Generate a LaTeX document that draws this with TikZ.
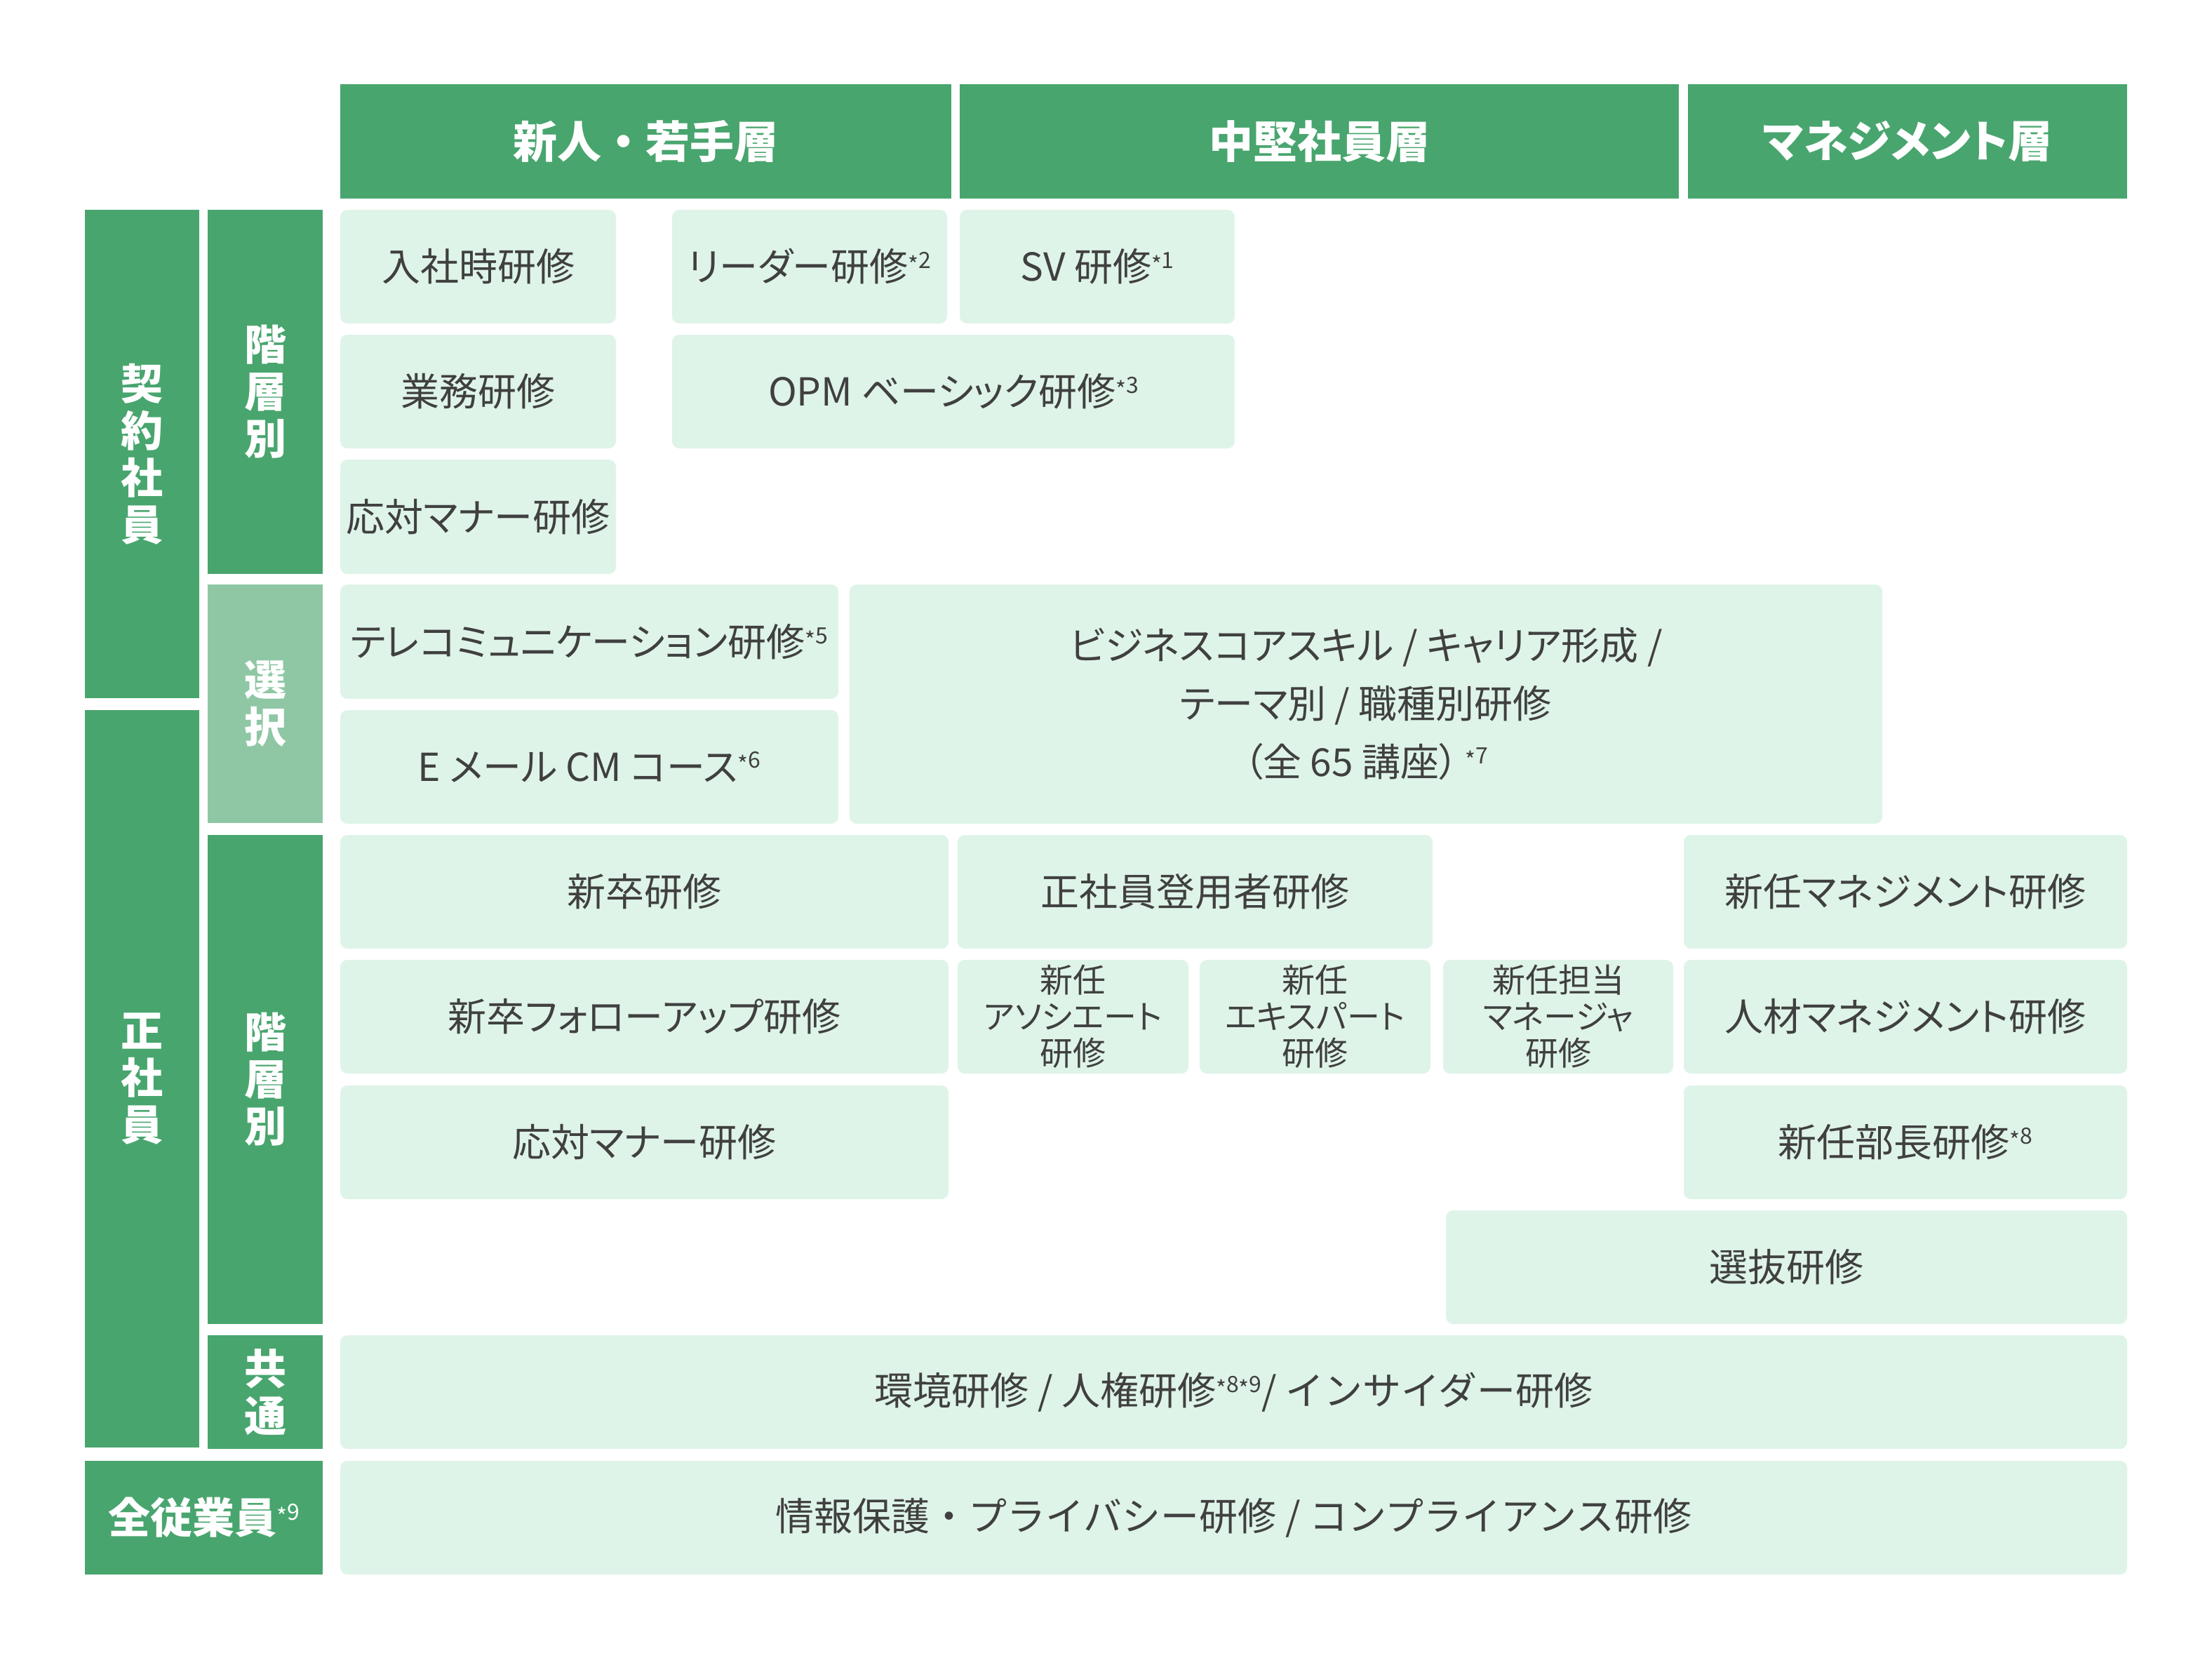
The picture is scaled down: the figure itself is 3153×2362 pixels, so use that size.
\documentclass[tikz,border=0pt]{standalone}
\usepackage{fontspec}
\setmainfont{Noto Sans CJK JP}
\newfontfamily\palt[RawFeature=+palt]{Noto Sans CJK JP}
\definecolor{hdr}{RGB}{72,165,110}
\definecolor{sel}{RGB}{143,199,165}
\definecolor{cellc}{RGB}{223,244,232}
\definecolor{txt}{RGB}{64,64,64}
\newcommand\nt[1]{\raisebox{0.33em}{\fontsize{32}{32}\selectfont\raisebox{-0.22em}{*}#1}}
\newcommand\ntw[1]{\raisebox{0.33em}{\mdseries\fontsize{32}{32}\selectfont\raisebox{-0.22em}{*}#1}}
\tikzset{
  cell/.style={fill=cellc, rounded corners=10pt, inner sep=0pt, outer sep=0pt, align=center, text=txt, font=\palt\fontsize{55}{83}\selectfont},
  plain/.style={font=\normalfont\fontsize{55}{83}\selectfont},
  small/.style={font=\palt\fontsize{47}{52}\selectfont},
  hd/.style={fill=hdr, inner sep=0pt, outer sep=0pt, text=white, align=center, font=\bfseries\fontsize{63}{70}\selectfont},
  side/.style={fill=hdr, inner sep=0pt, outer sep=0pt, text=white, align=center, font=\bfseries\fontsize{60}{67}\selectfont},
  selside/.style={side, fill=sel}
}
% \bx{style}{name}{x1}{y1}{x2}{y2}{text}
\newcommand\bx[7]{%
  \pgfmathsetmacro\bw{#5-#3}\pgfmathsetmacro\bh{#6-#4}%
  \pgfmathsetmacro\bcx{(#3+#5)/2}\pgfmathsetmacro\bcy{-(#4+#6)/2}%
  \node[#1, minimum width=\bw pt, minimum height=\bh pt] (#2) at (\bcx pt,\bcy pt) {#7};}
\begin{document}
\begin{tikzpicture}[x=1pt,y=1pt]
\useasboundingbox (0,0) rectangle (3153,-2362);
% headers
\bx{hd}{h1}{485}{120}{1356}{283}{新人・若手層}
\bx{hd}{h2}{1368}{120}{2393}{283}{中堅社員層}
\bx{hd}{h3}{2406}{120}{3032}{283}{\palt マネジメント層}
% side labels
\bx{side}{keiyaku}{121}{299}{284}{995}{契\\約\\社\\員}
\bx{side}{seisha}{121}{1012}{284}{2063}{正\\社\\員}
\bx{side}{kaisou1}{296}{299}{460}{818}{階\\層\\別}
\bx{selside}{sentaku}{296}{833}{460}{1173}{選\\択}
\bx{side}{kaisou2}{296}{1190}{460}{1887}{階\\層\\別}
\bx{side}{kyoutsu}{296}{1903}{460}{2065}{共\\通}
\bx{side}{zenin}{121}{2082}{460}{2244}{全従業員\ntw{9}}
% contract
\bx{cell}{c1}{485}{299}{878}{461}{入社時研修}
\bx{cell}{c2}{958}{299}{1350}{461}{リーダー研修\nt{2}}
\bx{cell}{c3}{1368}{299}{1760}{461}{SV 研修\nt{1}}
\bx{cell}{c4}{485}{477}{878}{639}{業務研修}
\bx{cell}{c5}{958}{477}{1760}{639}{OPM ベーシック研修\nt{3}}
\bx{cell}{c6}{485}{655}{878}{818}{応対マナー研修}
% selection
\bx{cell}{s1}{485}{833}{1195}{996}{テレコミュニケーション研修\nt{5}}
\bx{cell}{s2}{485}{1012}{1195}{1174}{E メール CM コース\nt{6}}
\bx{cell}{s3}{1211}{833}{2683}{1174}{ビジネスコアスキル / キャリア形成 /\\テーマ別 / 職種別研修\\（全 65 講座）\hspace{10pt}\nt{7}}
% regular
\bx{cell}{r1}{485}{1190}{1352}{1352}{新卒研修}
\bx{cell}{r2}{1365}{1190}{2042}{1352}{正社員登用者研修}
\bx{cell}{r3}{2400}{1190}{3032}{1352}{新任マネジメント研修}
\bx{cell}{r4}{485}{1368}{1352}{1530}{新卒フォローアップ研修}
\bx{cell,small}{r5}{1365}{1368}{1694}{1530}{新任\\アソシエート\\研修}
\bx{cell,small}{r6}{1710}{1368}{2039}{1530}{新任\\エキスパート\\研修}
\bx{cell,small}{r7}{2057}{1368}{2385}{1530}{新任担当\\マネージャ\\研修}
\bx{cell}{r8}{2400}{1368}{3032}{1530}{人材マネジメント研修}
\bx{cell}{r9}{485}{1547}{1352}{1709}{応対マナー研修}
\bx{cell}{r10}{2400}{1547}{3032}{1709}{新任部長研修\nt{8}}
\bx{cell}{r11}{2061}{1725}{3032}{1887}{選抜研修}
% common
\bx{cell,plain}{k1}{485}{1903}{3032}{2065}{環境研修 / 人権研修\nt{8}\nt{9}/ インサイダー研修}
\bx{cell,plain}{z1}{485}{2082}{3032}{2244}{情報保護・プライバシー研修 / コンプライアンス研修}
\end{tikzpicture}
\end{document}
